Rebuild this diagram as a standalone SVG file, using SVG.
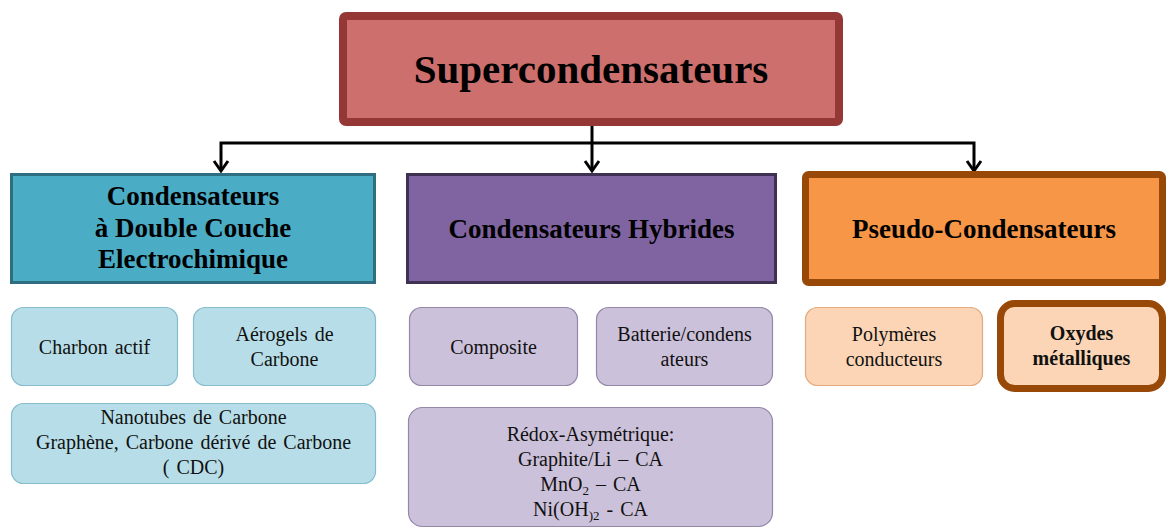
<svg xmlns="http://www.w3.org/2000/svg" width="1166" height="529" viewBox="0 0 1166 529">
<defs>
<marker id="arr" markerWidth="16" markerHeight="18" refX="12" refY="8" orient="auto" markerUnits="userSpaceOnUse" viewBox="0 0 16 16">
<polyline points="2,1 12,8 2,15" fill="none" stroke="#000" stroke-width="3"/>
</marker>
<style>
.hd{font-family:"Liberation Serif","Times New Roman",serif;font-weight:bold;font-size:27px;fill:#000;text-anchor:middle}
.tt{font-family:"Liberation Serif","Times New Roman",serif;font-weight:bold;font-size:41px;fill:#000;text-anchor:middle}
.tx{font-family:"Liberation Serif","Times New Roman",serif;font-size:20px;fill:#111;text-anchor:middle;word-spacing:2px}
.txb{font-family:"Liberation Serif","Times New Roman",serif;font-weight:bold;font-size:20px;fill:#111;text-anchor:middle}
.lb{fill:#B7DEE8;stroke:#86BDCD;stroke-width:1.2}
.lp{fill:#CCC1DA;stroke:#9487A8;stroke-width:1.2}
.lo{fill:#FBD5B5;stroke:#E2AA7E;stroke-width:1.2}
.conn{fill:none;stroke:#000;stroke-width:3}
</style>
</defs>
<g id="connectors">
<path class="conn" d="M592,126 V171" marker-end="url(#arr)"/>
<path class="conn" d="M592,143 H221 V171" marker-end="url(#arr)"/>
<path class="conn" d="M592,143 H974 V171" marker-end="url(#arr)"/>
</g>
<g id="supercondensateurs">
<rect x="343" y="16" width="496" height="106" rx="3" fill="#CD6F6C" stroke="#953735" stroke-width="8"/>
<text class="tt" x="591" y="83">Supercondensateurs</text>
</g>
<g id="double-couche">
<rect x="11.5" y="174.5" width="363" height="108" fill="#4BACC6" stroke="#2E6E80" stroke-width="3"/>
<text class="hd" x="193" y="205">Condensateurs</text>
<text class="hd" x="193" y="237">à Double Couche</text>
<text class="hd" x="193" y="268">Electrochimique</text>
</g>
<g id="hybrides">
<rect x="407.5" y="174.5" width="368" height="108" fill="#8064A2" stroke="#3F3151" stroke-width="3"/>
<text class="hd" x="591.5" y="238">Condensateurs Hybrides</text>
</g>
<g id="pseudo">
<rect x="805.5" y="174.5" width="357" height="108" rx="3" fill="#F79646" stroke="#984807" stroke-width="7"/>
<text class="hd" x="984" y="238">Pseudo-Condensateurs</text>
</g>
<g id="charbon">
<rect class="lb" x="11.5" y="307.5" width="166" height="78" rx="12"/>
<text class="tx" x="94.5" y="354">Charbon actif</text>
</g>
<g id="aerogels">
<rect class="lb" x="193.5" y="307.5" width="182" height="78" rx="12"/>
<text class="tx" x="284.5" y="341">Aérogels de</text>
<text class="tx" x="284.5" y="366">Carbone</text>
</g>
<g id="nanotubes">
<rect class="lb" x="11.5" y="403.5" width="364" height="80" rx="12"/>
<text class="tx" x="193.5" y="424">Nanotubes de Carbone</text>
<text class="tx" x="193.5" y="449">Graphène, Carbone dérivé de Carbone</text>
<text class="tx" x="193.5" y="474">( CDC)</text>
</g>
<g id="composite">
<rect class="lp" x="409.5" y="307.5" width="168" height="78" rx="12"/>
<text class="tx" x="493.5" y="354">Composite</text>
</g>
<g id="batterie">
<rect class="lp" x="596.5" y="307.5" width="176" height="78" rx="12"/>
<text class="tx" x="684.5" y="341">Batterie/condens</text>
<text class="tx" x="684.5" y="366">ateurs</text>
</g>
<g id="redox">
<rect class="lp" x="408.5" y="407.5" width="364" height="119" rx="14"/>
<text class="tx" x="590.5" y="441">Rédox-Asymétrique:</text>
<text class="tx" x="590.5" y="466">Graphite/Li – CA</text>
<text class="tx" x="590.5" y="491">MnO<tspan font-size="13" dy="4">2</tspan><tspan dy="-4"> – CA</tspan></text>
<text class="tx" x="590.5" y="516">Ni(OH<tspan font-size="13" dy="4">)2</tspan><tspan dy="-4"> - CA</tspan></text>
</g>
<g id="polymeres">
<rect class="lo" x="805.5" y="307.5" width="177" height="78" rx="12"/>
<text class="tx" x="894" y="341">Polymères</text>
<text class="tx" x="894" y="366">conducteurs</text>
</g>
<g id="oxydes">
<rect x="1000.5" y="303.5" width="162" height="85" rx="14" fill="#FBD5B5" stroke="#984807" stroke-width="7"/>
<text class="txb" x="1081.5" y="340">Oxydes</text>
<text class="txb" x="1081.5" y="365">métalliques</text>
</g>
</svg>
